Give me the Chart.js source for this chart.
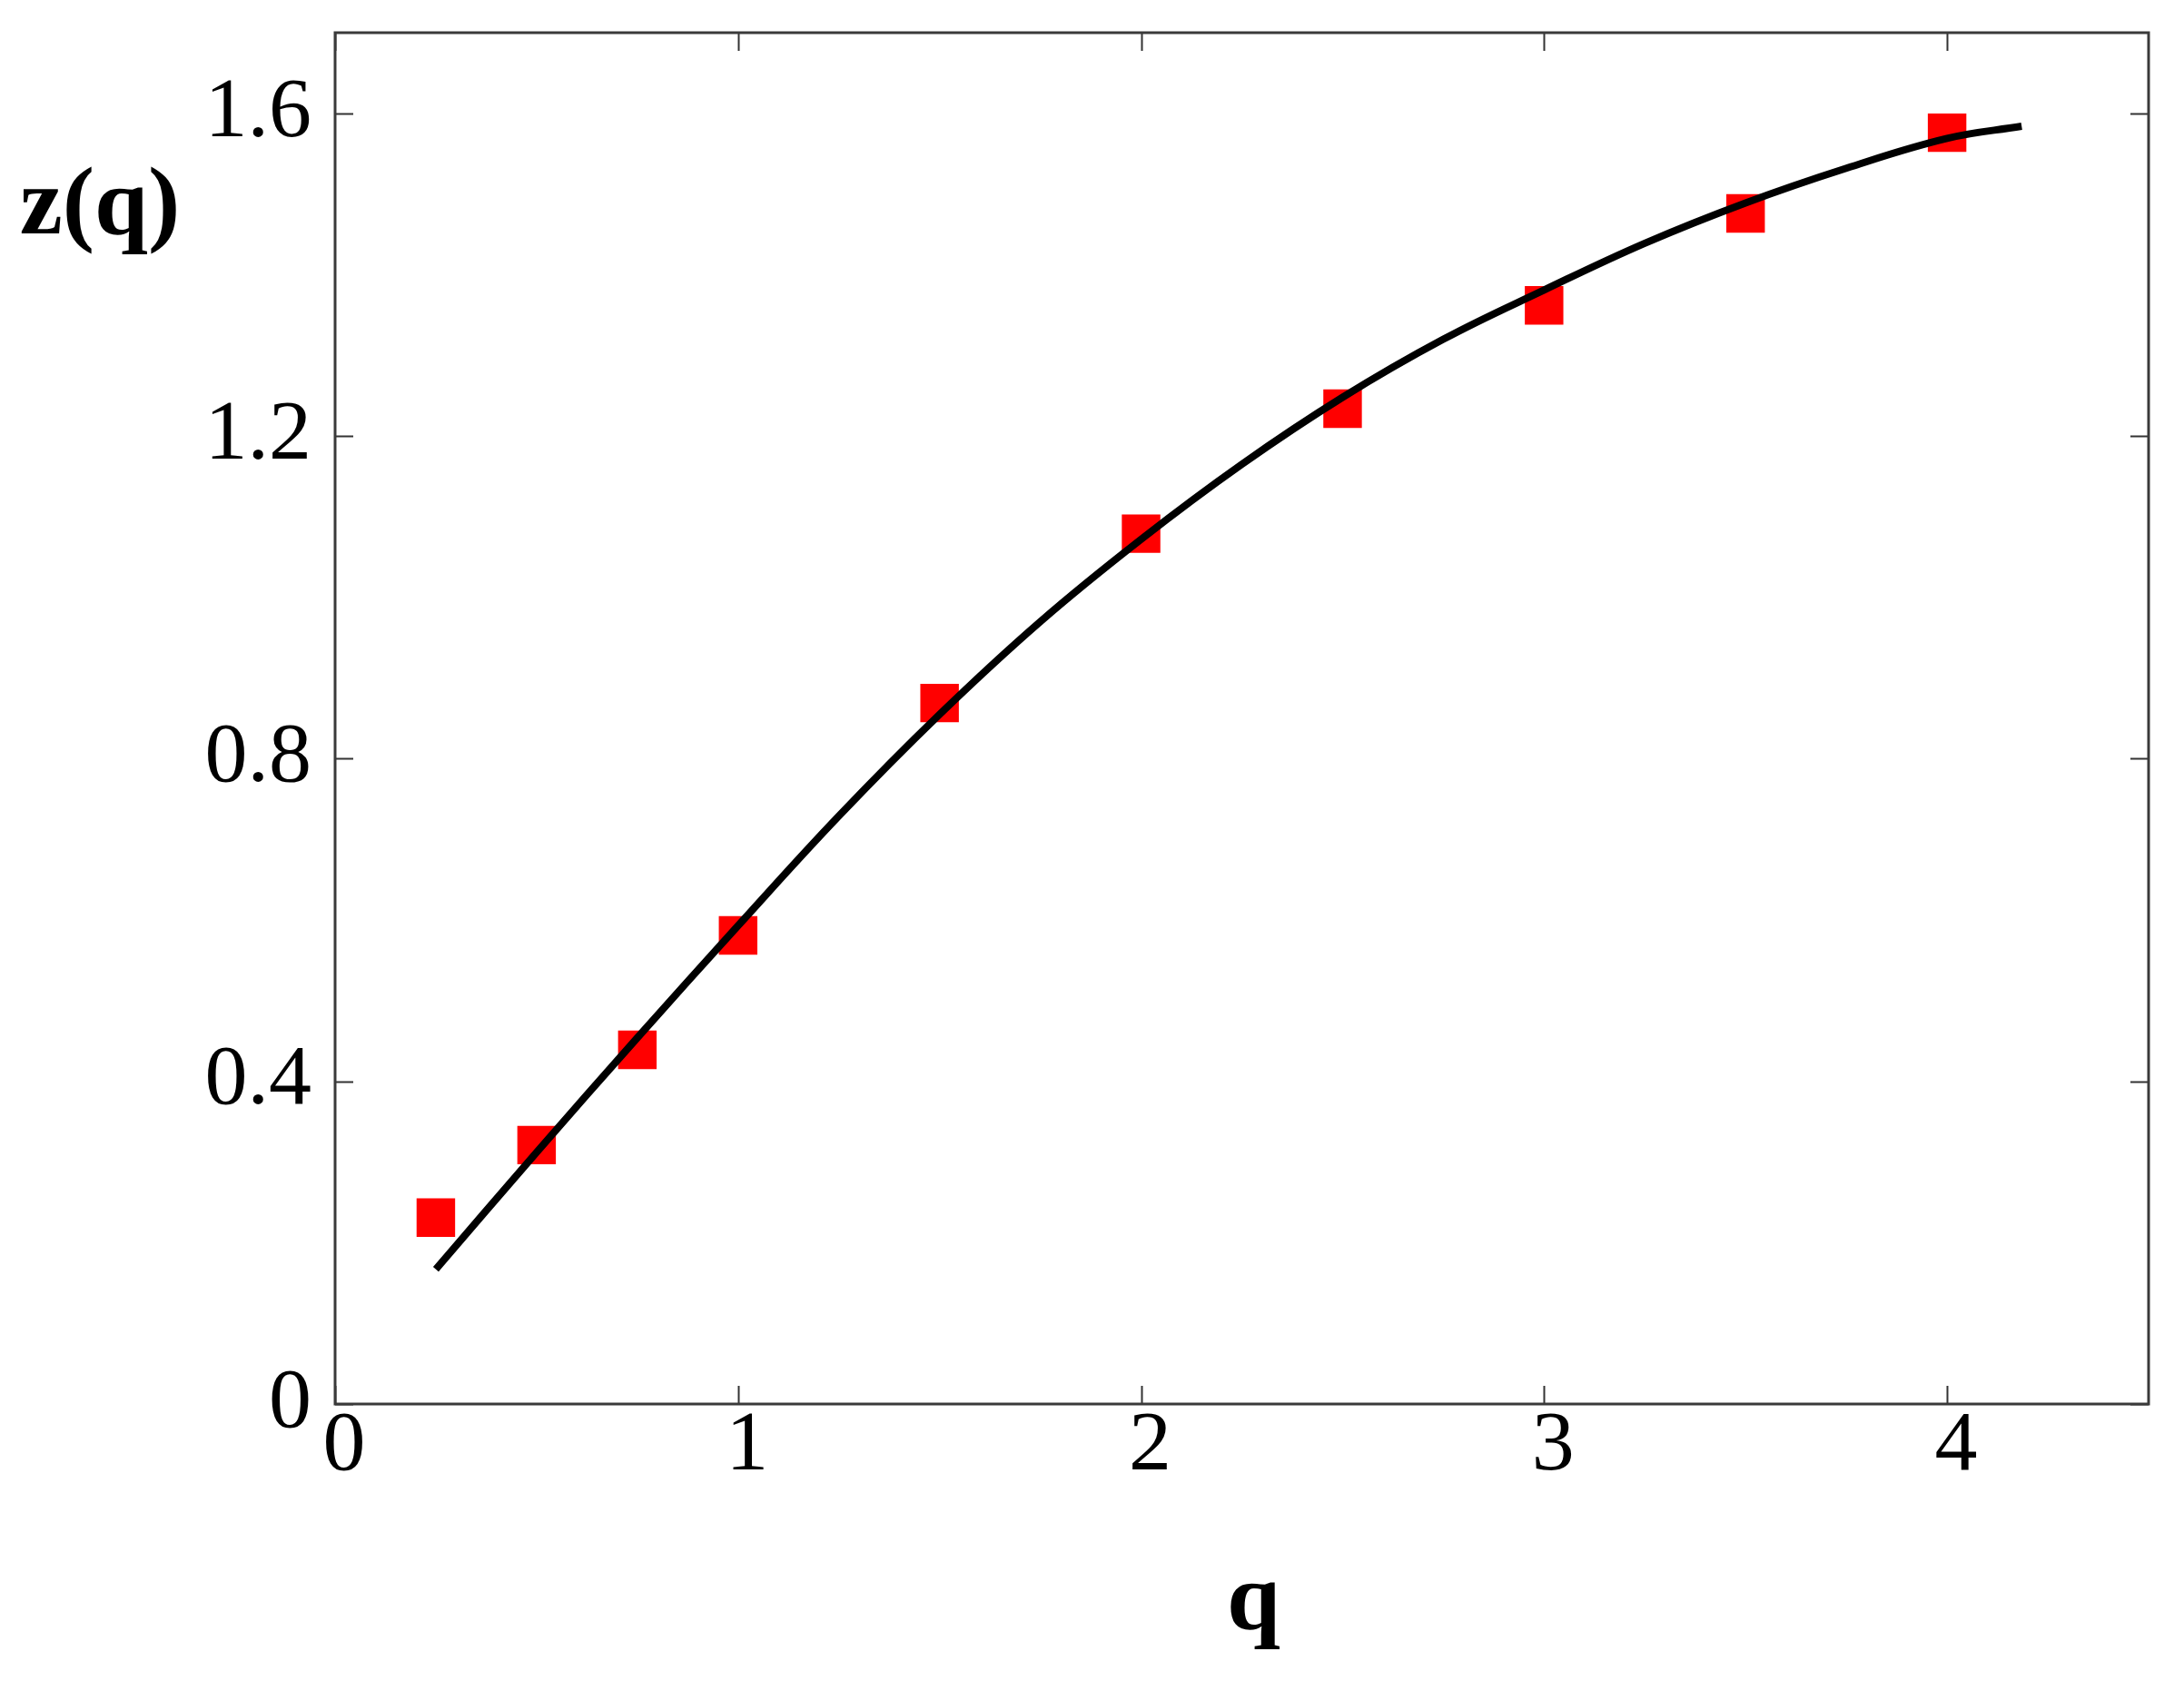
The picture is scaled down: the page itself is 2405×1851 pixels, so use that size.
<!DOCTYPE html>
<html>
<head>
<meta charset="utf-8">
<script src="https://cdn.jsdelivr.net/npm/chart.js@4"></script>
<style>
  html, body { margin: 0; padding: 0; background: #ffffff; }
  #wrap { width: 2405px; height: 1851px; }
</style>
</head>
<body>
<div id="wrap"><canvas id="c" width="2405" height="1851"></canvas></div>
<script>
// ---- data ----
const qPoints = [0.25, 0.5, 0.75, 1, 1.5, 2, 2.5, 3, 3.5, 4];
const zPoints = [0.231, 0.321, 0.439, 0.581, 0.869, 1.079, 1.234, 1.362, 1.476, 1.576];

const fitQ = [0.25, 0.5, 0.75, 1, 1.25, 1.5, 1.75, 2, 2.25, 2.5, 2.75, 3, 3.25, 3.5, 3.75, 4, 4.185];
const fitZ = [0.167, 0.312, 0.454, 0.593, 0.729, 0.855, 0.970, 1.072, 1.165, 1.248, 1.320, 1.381, 1.439, 1.489, 1.532, 1.569, 1.584];

const xTicks = [0, 1, 2, 3, 4];
const yTicks = [0, 0.4, 0.8, 1.2, 1.6];
const xTickLabels = ['0', '1', '2', '3', '4'];
const yTickLabels = ['0', '0.4', '0.8', '1.2', '1.6'];

const xTitle = 'q';
const yTitle = 'z(q)';

// ---- helpers ----
const serif = '"Liberation Serif", "Times New Roman", serif';

const framePlugin = {
  id: 'framePlugin',
  afterDraw(chart) {
    const ctx = chart.ctx;
    const a = chart.chartArea;
    const xs = chart.scales.x, ys = chart.scales.y;
    const tl = 20;
    ctx.save();
    // inward tick marks on all four sides
    ctx.strokeStyle = '#333333';
    ctx.lineWidth = 2;
    ctx.beginPath();
    xTicks.forEach(v => {
      const px = Math.round(xs.getPixelForValue(v)) + 0.5;
      ctx.moveTo(px, a.bottom); ctx.lineTo(px, a.bottom - tl);
      ctx.moveTo(px, a.top); ctx.lineTo(px, a.top + tl);
    });
    yTicks.forEach(v => {
      const py = Math.round(ys.getPixelForValue(v)) + 0.5;
      ctx.moveTo(a.left, py); ctx.lineTo(a.left + tl, py);
      ctx.moveTo(a.right, py); ctx.lineTo(a.right - tl, py);
    });
    ctx.stroke();
    // frame
    ctx.strokeStyle = '#3a3a3a';
    ctx.lineWidth = 3;
    ctx.strokeRect(a.left, a.top, a.right - a.left, a.bottom - a.top);
    // axis titles (horizontal, bold serif)
    ctx.fillStyle = '#000000';
    ctx.font = 'bold 106px ' + serif;
    ctx.textAlign = 'center';
    ctx.textBaseline = 'alphabetic';
    ctx.fillText(yTitle, 110, 257);
    ctx.fillText(xTitle, (a.left + a.right) / 2 + 13, 1793);
    ctx.restore();
  }
};

const ctx = document.getElementById('c').getContext('2d');
new Chart(ctx, {
  type: 'scatter',
  data: {
    datasets: [
      {
        type: 'line',
        label: 'fit',
        data: fitQ.map((q, i) => ({ x: q, y: fitZ[i] })),
        borderColor: '#000000',
        borderWidth: 8,
        pointRadius: 0,
        fill: false,
        tension: 0.4,
        borderCapStyle: 'butt',
        order: 0
      },
      {
        type: 'scatter',
        label: 'data',
        data: qPoints.map((q, i) => ({ x: q, y: zPoints[i] })),
        pointStyle: 'rect',
        pointRadius: 30,
        pointHoverRadius: 30,
        backgroundColor: '#ff0000',
        borderWidth: 0,
        order: 1
      }
    ]
  },
  options: {
    responsive: false,
    animation: false,
    devicePixelRatio: 1,
    layout: { padding: { top: 36, right: 39, left: 0, bottom: 0 } },
    plugins: { legend: { display: false }, tooltip: { enabled: false }, title: { display: false } },
    scales: {
      x: {
        type: 'linear',
        min: 0, max: 4.5,
        grid: { display: false, drawTicks: false },
        border: { display: false },
        afterBuildTicks: s => { s.ticks = xTicks.map(v => ({ value: v })); },
        afterFit: s => { s.height = 305; s.paddingLeft = 0; s.paddingRight = 0; s.paddingTop = 0; s.paddingBottom = 0; },
        ticks: {
          includeBounds: false,
          color: '#000000',
          font: { family: serif, size: 94, lineHeight: 1 },
          padding: 0,
          labelOffset: 10,
          maxRotation: 0,
          autoSkip: false,
          callback: (v) => { const i = xTicks.indexOf(v); return i >= 0 ? xTickLabels[i] : ''; }
        }
      },
      y: {
        type: 'linear',
        min: 0, max: 1.7,
        grid: { display: false, drawTicks: false },
        border: { display: false },
        afterBuildTicks: s => { s.ticks = yTicks.map(v => ({ value: v })); },
        afterFit: s => { s.width = 369; s.paddingLeft = 0; s.paddingRight = 0; s.paddingTop = 0; s.paddingBottom = 0; },
        ticks: {
          includeBounds: false,
          color: '#000000',
          font: { family: serif, size: 94, lineHeight: 1 },
          padding: 26,
          autoSkip: false,
          callback: (v) => { const i = yTicks.indexOf(v); return i >= 0 ? yTickLabels[i] : ''; }
        }
      }
    }
  },
  plugins: [framePlugin]
});
</script>
</body>
</html>
